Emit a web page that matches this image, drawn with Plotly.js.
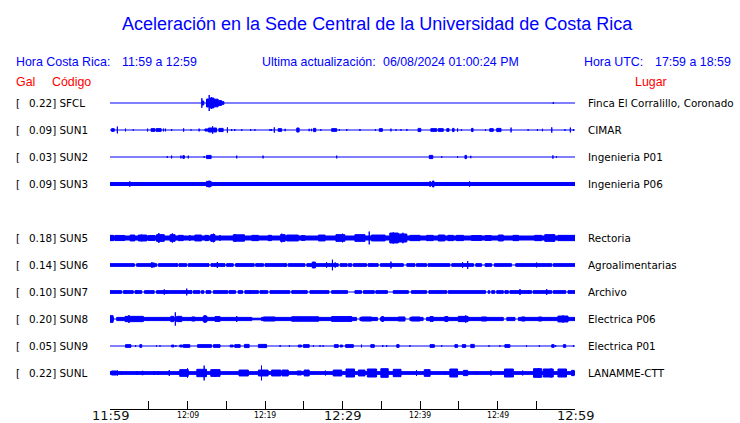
<!DOCTYPE html>
<html><head><meta charset="utf-8">
<script src="https://cdn.plot.ly/plotly-3.0.1.min.js"></script>
<style>html,body{margin:0;padding:0;background:#fff}#chart{width:740px;height:423px}</style>
</head><body><div id="chart"></div>
<script>
// ---- data (times in minutes after 11:59; amplitudes relative to trace peak) ----
const codes  = ['SFCL','SUN1','SUN2','SUN3','SUN4','SUN5','SUN6','SUN7','SUN8','SUN9','SUNL'];
const peaks  = ['0.22','0.09','0.03','0.09',null,'0.18','0.14','0.10','0.20','0.05','0.22'];
const places = ['Finca El Corralillo, Coronado','CIMAR','Ingenieria P01','Ingenieria P06','','Rectoria','Agroalimentarias','Archivo','Electrica P06','Electrica P01','LANAMME-CTT'];
const tickMinutes = [0,5,10,15,20,25,30,35,40,45,50,55,60];
const tickLabels  = ['11:59','12:09','12:19','12:29','12:39','12:49','12:59'];
const tickLabelMinutes = [0,10,20,30,40,50,60];
const majorLabels = ['11:59','12:29','12:59'];

const baseAmp = [0,0,0,0.19,0,0.25,0.17,0.17,0.2,0,0.17];

const gapsSUN6 = [[3.14,3.44],[6.02,6.24],[8.73,8.9],[9.9,10.1],[12.77,13.03],[14.84,15.05],[15.9,16.2],[18.6,18.8],[19.8,20.0],[22.8,23.0],[25.15,25.4],[29.45,29.7],[30.6,30.75],[31.2,31.4],[33.1,33.3],[34.6,34.9],[37.85,38.3],[39.35,39.55],[40.85,41.05],[43.85,44.1],[46.9,47.2],[47.95,48.4],[49.25,49.6],[51.8,52.35],[57.0,57.2]];
const gapsSUN7 = [[1.5,1.72],[3.0,3.22],[4.1,4.45],[5.7,6.0],[10.55,10.75],[11.6,11.8],[12.1,12.4],[13.0,13.35],[15.2,15.35],[16.2,16.55],[17.1,17.4],[19.15,19.35],[20.35,20.65],[23.2,23.45],[25.45,25.8],[28.25,28.6],[30.65,31.6],[32.45,32.7],[34.1,34.3],[35.8,36.55],[38.5,38.9],[40.85,41.15],[43.45,43.65],[48.45,48.8],[49.0,49.25],[49.65,49.9],[50.75,50.95],[51.4,51.6],[54.4,54.6],[57.0,57.2],[58.8,59.1]];
const gapsSUN8 = [[0.43,0.86],[18.3,19.55],[31.8,32.25],[34.5,34.9],[38.05,38.7],[40.4,40.85],[50.75,51.2],[52.25,52.7]];

// events: [start, end, amplitude]; start==end means a single spike
const evSFCL = [[11.85,11.85,0.6],[11.9,12.1,0.25],[12.45,12.75,0.5],[12.8,12.8,1.0],[12.9,13.4,0.62],[13.1,13.1,0.75],[13.4,13.95,0.48],[13.95,14.4,0.3],[14.4,14.7,0.17],[57.2,57.2,0.12]];
const evSUN1 = [[0.2,0.55,0.17],[0.95,0.95,0.42],[2.0,2.0,0.17],[3.0,3.0,0.08],[4.85,4.85,0.17],[5.3,5.8,0.17],[5.95,6.6,0.17],[6.9,6.9,0.17],[7.15,7.15,0.17],[7.95,7.95,0.12],[9.5,9.5,0.2],[10.45,10.45,0.08],[11.5,11.5,0.17],[12.25,12.7,0.13],[12.7,13.2,0.25],[13.25,13.25,0.46],[13.35,13.75,0.25],[14.05,14.6,0.2],[15.15,15.15,0.33],[15.7,15.7,0.12],[16.1,16.1,0.12],[17.0,17.0,0.1],[18.15,18.15,0.12],[18.7,18.7,0.1],[20.65,20.65,0.12],[20.85,20.85,0.12],[21.2,21.2,0.33],[21.7,22.15,0.17],[22.6,22.6,0.15],[24.1,24.4,0.25],[25.7,25.7,0.15],[26.0,26.0,0.15],[26.25,26.55,0.2],[27.2,27.2,0.1],[28.6,29.25,0.17],[29.6,29.6,0.1],[30.55,30.55,0.12],[32.25,32.25,0.12],[34.25,34.25,0.1],[34.75,35.15,0.17],[36.25,36.25,0.17],[36.9,36.9,0.1],[37.55,37.55,0.1],[38.3,38.3,0.12],[39.75,40.1,0.2],[41.4,42.15,0.17],[42.35,43.0,0.17],[43.45,43.75,0.17],[44.2,44.4,0.2],[44.85,44.85,0.2],[45.35,45.35,0.1],[46.65,46.85,0.2],[48.45,48.45,0.1],[49.0,49.45,0.17],[49.9,50.45,0.2],[51.75,51.75,0.3],[53.95,53.95,0.1],[55.15,55.15,0.12],[55.8,55.8,0.15],[57.0,57.0,0.33],[58.7,58.7,0.1],[59.4,59.4,0.3],[59.8,59.8,0.12]];
const evSUN2 = [[7.4,7.4,0.12],[7.95,7.95,0.17],[9.15,9.15,0.17],[9.4,9.6,0.17],[10.1,10.1,0.17],[12.15,12.15,0.1],[12.45,13.05,0.2],[16.35,16.35,0.17],[19.75,19.75,0.17],[29.25,29.25,0.17],[41.2,41.65,0.2],[42.8,42.8,0.1],[44.85,44.85,0.1],[45.8,46.0,0.2],[46.55,46.55,0.15],[57.15,57.15,0.2],[57.6,57.6,0.1]];
const evSUN3 = [[2.55,2.55,0.33],[4.2,4.2,0.25],[12.45,13.05,0.33],[12.8,12.8,0.42],[19.75,19.75,0.25],[29.25,29.25,0.25],[41.3,41.3,0.37],[41.6,41.8,0.37],[45.85,45.85,0.25],[46.4,46.4,0.33]];
const evSUN4 = [];
const evSUN5 = [[0,0.45,0.33],[0.65,1.9,0.32],[2.6,3.2,0.37],[3.65,4.75,0.37],[4.1,4.1,0.42],[4.95,5.8,0.3],[6.0,7.0,0.42],[6.3,6.3,0.62],[7.75,8.4,0.42],[8.05,8.05,0.58],[8.8,9.45,0.33],[10.3,10.3,0.37],[10.95,11.8,0.37],[12.25,12.7,0.33],[13.0,13.55,0.42],[13.35,13.35,0.54],[14.2,14.2,0.37],[15.9,17.35,0.4],[16.15,16.15,0.5],[18.3,19.15,0.33],[20.4,20.85,0.33],[22.0,22.6,0.42],[22.15,22.15,0.54],[22.8,24.3,0.37],[24.7,25.15,0.3],[26.9,27.75,0.37],[29.15,30.3,0.42],[30.0,30.0,0.54],[31.6,32.9,0.42],[33.45,33.45,0.8],[33.75,35.5,0.37],[36.1,37.2,0.62],[36.55,36.55,0.7],[37.2,38.3,0.5],[37.8,37.8,0.66],[38.7,40.0,0.33],[40.85,41.7,0.33],[42.35,43.2,0.37],[43.6,44.3,0.33],[44.7,45.6,0.33],[46.65,47.95,0.3],[48.4,49.2,0.3],[50.1,50.75,0.37],[52.0,52.7,0.33],[54.8,55.7,0.33],[56.1,57.4,0.42],[57.2,57.2,0.5],[57.8,60,0.33]];
const evSUN6 = [[5.3,5.75,0.25],[5.4,5.4,0.33],[8.6,8.6,0.25],[13.85,13.85,0.37],[14.4,14.4,0.25],[16.55,16.55,0.25],[22.6,22.6,0.22],[26.1,26.5,0.37],[27.95,27.95,0.33],[28.7,28.7,0.66],[29.05,29.05,0.33],[33.75,33.75,0.25],[36.25,36.25,0.42],[45.5,45.5,0.33],[46.15,46.15,0.5],[48.6,48.6,0.25],[55.05,55.05,0.3]];
const evSUN7 = [[1.95,1.95,0.25],[3.45,3.45,0.25],[7.0,7.0,0.33],[7.3,7.3,0.25],[9.9,9.9,0.42],[10.45,10.45,0.25],[18.05,18.05,0.22],[52.9,52.9,0.37],[54.0,54.0,0.25],[56.35,56.35,0.37]];
const evSUN8 = [[0,0.4,0.42],[1.95,4.3,0.33],[2.45,2.45,0.5],[4.95,4.95,0.25],[7.85,8.2,0.33],[8.43,8.43,0.83],[8.6,9.25,0.33],[10.55,10.97,0.25],[12.05,12.5,0.37],[12.25,12.25,0.5],[13.55,14.2,0.3],[16.35,16.35,0.37],[18.3,19.55,0.1],[19.8,21.3,0.25],[23.45,26.9,0.28],[28.6,31.2,0.3],[30.0,30.0,0.37],[30.95,30.95,0.37],[32.45,33.75,0.25],[35.05,35.3,0.3],[37.2,38.05,0.25],[38.9,40.0,0.25],[41.3,41.7,0.3],[43.2,43.6,0.3],[44.95,46.2,0.33],[45.9,45.9,0.46],[47.95,48.6,0.25],[53.1,53.55,0.25],[55.3,55.7,0.25],[57.8,59.1,0.37],[58.45,58.45,0.46]];
const evSUN9 = [[2.0,2.7,0.17],[3.3,3.3,0.12],[3.85,4.1,0.17],[6.0,6.0,0.08],[6.45,6.45,0.08],[7.95,8.25,0.12],[8.5,8.5,0.1],[9.0,9.35,0.12],[9.45,10.3,0.17],[11.3,13.1,0.17],[13.35,14.2,0.17],[15.5,15.9,0.12],[16.1,16.8,0.17],[17.35,17.95,0.2],[19.15,20.2,0.2],[20.0,20.0,0.25],[21.95,21.95,0.12],[23.15,23.15,0.1],[24.3,24.7,0.12],[24.95,25.7,0.17],[26.25,26.25,0.1],[27.1,27.1,0.1],[27.5,27.5,0.1],[28.95,29.45,0.17],[29.7,30.0,0.12],[30.4,31.4,0.17],[32.45,32.45,0.17],[33.65,34.1,0.17],[35.2,35.2,0.12],[35.7,35.7,0.12],[37.0,37.3,0.17],[38.7,38.7,0.1],[41.3,41.85,0.17],[42.8,42.8,0.1],[44.5,44.85,0.17],[45.45,45.9,0.17],[46.55,47.0,0.2],[48.9,48.9,0.1],[50.3,50.3,0.1],[50.95,51.6,0.17],[53.75,53.75,0.1],[55.4,55.4,0.1],[57.0,57.3,0.17],[57.5,57.5,0.12],[58.5,58.8,0.17],[59.8,59.8,0.1]];
const evSUNL = [[0.2,0.85,0.25],[0.95,0.95,0.33],[1.5,1.5,0.22],[3.45,3.45,0.25],[4.1,4.3,0.22],[5.6,5.8,0.17],[6.25,6.25,0.25],[7.65,7.65,0.37],[8.9,8.9,0.25],[9.0,10.1,0.42],[10.0,10.0,0.58],[11.2,12.45,0.46],[12.15,12.15,0.92],[13.0,14.2,0.42],[13.55,13.55,0.5],[16.65,17.85,0.37],[19.15,20.4,0.37],[19.55,19.55,0.92],[20.85,22.05,0.37],[22.2,23.0,0.37],[24.15,24.7,0.25],[25.05,25.7,0.37],[27.8,27.8,0.3],[28.8,29.9,0.37],[30.45,31.55,0.5],[32.05,32.9,0.37],[33.2,34.4,0.5],[34.95,35.9,0.54],[36.55,37.55,0.46],[39.55,39.55,0.37],[40.55,41.3,0.42],[43.2,43.2,0.25],[43.85,44.85,0.5],[45.6,46.15,0.33],[47.3,47.3,0.22],[49.15,49.15,0.33],[50.9,52.05,0.5],[53.25,53.25,0.3],[54.65,55.7,0.54],[55.3,55.3,0.62],[55.9,57.2,0.5],[56.9,56.9,0.58],[57.8,58.9,0.5],[59.55,59.9,0.33]];

const events = [evSFCL,evSUN1,evSUN2,evSUN3,evSUN4,evSUN5,evSUN6,evSUN7,evSUN8,evSUN9,evSUNL];
const gaps = [[],[],[],[],[],[],gapsSUN6,gapsSUN7,gapsSUN8,[],[]];

// ---- drawing ----
const BLUE = '#0000ff', RED = '#ff0000';
const K = 8/27;            // peak amplitude -> row units
const ML = 110, MR = 165, MT = 90, MB = 14, W = 740, H = 423;
const PW = W - ML - MR, PH = H - MT - MB;
const yTop = (103 - MT) / 27, yBot = -10 - (H - MB - 373) / 27;
const px2x = p => (p - ML) / PW;
const py2y = p => (H - MB - p) / PH;

const traces = [];
codes.forEach((c, i) => {
  if (peaks[i] === null) return;
  const yc = -i;
  traces.push({x:[0,60], y:[yc,yc], mode:'lines', line:{color:BLUE,width:1.2}, hoverinfo:'skip'});
  const xs = [], ys = [];
  const rect = (t0,t1,a) => { const h=a*K; xs.push(t0,t1,t1,t0,t0,null); ys.push(yc-h,yc-h,yc+h,yc+h,yc-h,null); };
  if (baseAmp[i] > 0) {
    let s = 0;
    gaps[i].forEach(g => { rect(s, g[0], baseAmp[i]); s = g[1]; });
    rect(s, 60, baseAmp[i]);
  }
  events[i].forEach(e => rect(e[0], e[1], e[2]));
  traces.push({x:xs, y:ys, mode:'lines', fill:'toself', fillcolor:BLUE, line:{color:BLUE,width:1}, hoverinfo:'skip'});
});

const ann = [];
const A = (o) => ann.push(Object.assign({showarrow:false, borderpad:0}, o));
const hdr = {family:'Liberation Sans, Arial, sans-serif', size:12.4, color:BLUE};
A({xref:'paper',yref:'paper',x:px2x(377),y:py2y(24),xanchor:'center',yanchor:'middle',text:'Aceleración en la Sede Central de la Universidad de Costa Rica',font:{family:'Liberation Sans, Arial, sans-serif',size:18,color:BLUE}});
A({xref:'paper',yref:'paper',x:px2x(15),y:py2y(61.5),xanchor:'left',yanchor:'middle',text:'Hora Costa Rica:',font:hdr});
A({xref:'paper',yref:'paper',x:px2x(121),y:py2y(61.5),xanchor:'left',yanchor:'middle',text:'11:59 a 12:59',font:hdr});
A({xref:'paper',yref:'paper',x:px2x(261),y:py2y(61.5),xanchor:'left',yanchor:'middle',text:'Ultima actualización:',font:hdr});
A({xref:'paper',yref:'paper',x:px2x(382),y:py2y(61.5),xanchor:'left',yanchor:'middle',text:'06/08/2024 01:00:24 PM',font:hdr});
A({xref:'paper',yref:'paper',x:px2x(583),y:py2y(61.5),xanchor:'left',yanchor:'middle',text:'Hora UTC:',font:hdr});
A({xref:'paper',yref:'paper',x:px2x(654),y:py2y(61.5),xanchor:'left',yanchor:'middle',text:'17:59 a 18:59',font:hdr});
const red = Object.assign({}, hdr, {color:RED});
A({xref:'paper',yref:'paper',x:px2x(15),y:py2y(82),xanchor:'left',yanchor:'middle',text:'Gal',font:red});
A({xref:'paper',yref:'paper',x:px2x(51),y:py2y(82),xanchor:'left',yanchor:'middle',text:'Código',font:red});
A({xref:'paper',yref:'paper',x:px2x(634),y:py2y(82),xanchor:'left',yanchor:'middle',text:'Lugar',font:red});

const lab = {family:'DejaVu Sans, sans-serif', size:10.4, color:'#000'};
codes.forEach((c, i) => {
  if (peaks[i] === null) return;
  A({xref:'paper',yref:'y',x:px2x(15),y:-i,xanchor:'left',yanchor:'middle',text:'[',font:lab});
  A({xref:'paper',yref:'y',x:px2x(27.5),y:-i,xanchor:'left',yanchor:'middle',text:peaks[i]+'] '+c,font:lab});
  A({xref:'paper',yref:'y',x:px2x(587),y:-i,xanchor:'left',yanchor:'middle',text:places[i],font:lab});
});

tickLabels.forEach((t, k) => {
  const big = majorLabels.includes(t);
  A({xref:'x',yref:'paper',x:tickLabelMinutes[k],y:py2y(big?415.5:414.5),xanchor:'center',yanchor:'middle',text:t,
     font: big ? {family:'DejaVu Sans, sans-serif',size:13,color:'#111'} : {family:'DejaVu Sans Condensed, DejaVu Sans, sans-serif',size:8.6,color:'#000'}});
});

const layout = {
  width:W, height:H, margin:{l:ML,r:MR,t:MT,b:MB,pad:0},
  paper_bgcolor:'#fff', plot_bgcolor:'#fff', showlegend:false,
  xaxis:{range:[0,60], tickvals:tickMinutes, ticks:'inside', ticklen:8, tickwidth:1, tickcolor:'#000',
         showline:true, linecolor:'#000', linewidth:1, showticklabels:false, showgrid:false, zeroline:false, fixedrange:true},
  yaxis:{range:[yBot,yTop], visible:false, fixedrange:true},
  annotations: ann
};
Plotly.newPlot('chart', traces, layout, {staticPlot:true, displayModeBar:false});
</script></body></html>
